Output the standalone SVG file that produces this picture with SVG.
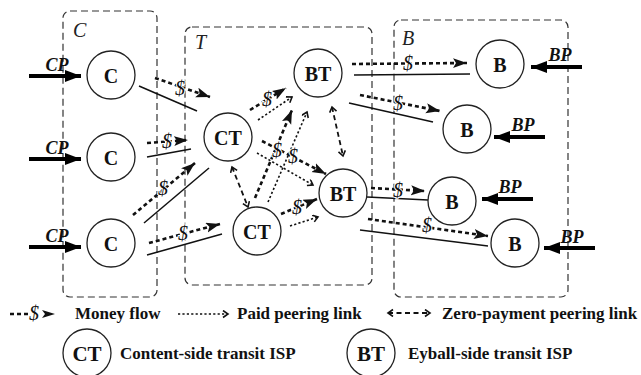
<svg xmlns="http://www.w3.org/2000/svg" width="641" height="375" viewBox="0 0 641 375">
  <style>
    .box { fill: none; stroke: #333; stroke-width: 1.2; stroke-dasharray: 7 4; }
    .node circle { fill: #fff; stroke: #222; stroke-width: 1.3; }
    .node text, .leg { font-family: "Liberation Serif", "Times New Roman", serif; font-weight: bold; fill: #111; }
    .node text { font-size: 20px; text-anchor: middle; dominant-baseline: central; }
    .leg { font-size: 17px; }
    .grp { font-family: "Liberation Serif", serif; font-style: italic; font-size: 20px; fill: #222; }
    .ext { font-family: "Liberation Serif", serif; font-style: italic; font-weight: bold; font-size: 18px; fill: #111; text-anchor: middle; }
    .money { fill: none; stroke: #111; stroke-width: 2.6; stroke-dasharray: 4 3; marker-end: url(#mhead); }
    .paid { fill: none; stroke: #111; stroke-width: 1.6; stroke-dasharray: 2.2 2.2; marker-end: url(#open); }
    .zero { fill: none; stroke: #111; stroke-width: 1.8; stroke-dasharray: 5 3.5; marker-start: url(#open); marker-end: url(#open); }
    .link { stroke: #111; stroke-width: 1.5; }
    .dollar { font-family: "Liberation Serif", serif; font-style: italic; font-size: 20px; fill: #111; text-anchor: middle; dominant-baseline: central; paint-order: stroke; stroke: #fff; stroke-width: 2; }
    .thick { stroke: #000; stroke-width: 4; marker-end: url(#big); }
  </style>
  <defs>
    <marker id="mhead" markerUnits="userSpaceOnUse" markerWidth="16" markerHeight="12" refX="14" refY="5" orient="auto">
      <path d="M0,0 L14,5 L0,10 L3,5 Z" fill="#111"/>
    </marker>
    <marker id="open" markerUnits="userSpaceOnUse" markerWidth="10" markerHeight="10" refX="6" refY="4" orient="auto-start-reverse">
      <path d="M1,0.5 L6,4 L1,7.5" fill="none" stroke="#111" stroke-width="1.6"/>
    </marker>
    <marker id="big" markerUnits="userSpaceOnUse" markerWidth="18" markerHeight="14" refX="16" refY="6" orient="auto">
      <path d="M0,0 L16,6 L0,12 Z" fill="#000"/>
    </marker>
  </defs>

  <!-- group boxes -->
  <g id="groups">
    <rect class="box" x="63" y="11" width="94" height="286" rx="7"/>
    <rect class="box" x="185" y="27" width="187" height="258" rx="7"/>
    <rect class="box" x="394" y="20" width="174" height="277" rx="7"/>
    <text class="grp" x="73" y="37">C</text>
    <text class="grp" x="195" y="49">T</text>
    <text class="grp" x="402" y="45">B</text>
  </g>

  <!-- connectors -->
  <g id="connectors">
    <!-- plain links -->
    <line class="link" x1="139" y1="86" x2="197" y2="111"/>
    <line class="link" x1="147" y1="157" x2="191" y2="149"/>
    <line class="link" x1="144" y1="223" x2="209" y2="168"/>
    <line class="link" x1="147" y1="255" x2="222" y2="234"/>
    <line class="link" x1="354" y1="75" x2="470" y2="74"/>
    <line class="link" x1="349" y1="103" x2="433" y2="122"/>
    <line class="link" x1="367" y1="197" x2="428" y2="200"/>
    <line class="link" x1="360" y1="230" x2="488" y2="246"/>

    <!-- paid peering links -->
    <line class="paid" x1="258" y1="120" x2="292" y2="97"/>
    <line class="paid" x1="257" y1="153" x2="313" y2="185"/>
    <line class="paid" x1="268" y1="202" x2="307" y2="112"/>
    <line class="paid" x1="290" y1="226" x2="318" y2="217"/>

    <!-- zero-payment peering links -->
    <line class="zero" x1="232" y1="167" x2="248" y2="207"/>
    <line class="zero" x1="332" y1="107" x2="343" y2="156"/>

    <!-- money flows -->
    <line class="money" x1="155" y1="78" x2="210" y2="97"/>
    <line class="money" x1="147" y1="143" x2="188" y2="140"/>
    <line class="money" x1="133" y1="215" x2="195" y2="163"/>
    <line class="money" x1="149" y1="243" x2="220" y2="224"/>
    <line class="money" x1="250" y1="110" x2="286" y2="88"/>
    <line class="money" x1="262" y1="141" x2="326" y2="174"/>
    <line class="money" x1="255" y1="198" x2="292" y2="110"/>
    <line class="money" x1="281" y1="214" x2="317" y2="199"/>
    <line class="money" x1="352" y1="64" x2="467" y2="63"/>
    <line class="money" x1="360" y1="95" x2="440" y2="111"/>
    <line class="money" x1="371" y1="188" x2="425" y2="191"/>
    <line class="money" x1="368" y1="219" x2="488" y2="236"/>

    <text class="dollar" x="180" y="88">$</text>
    <text class="dollar" x="167" y="141">$</text>
    <text class="dollar" x="163" y="188">$</text>
    <text class="dollar" x="183" y="233">$</text>
    <text class="dollar" x="267" y="99">$</text>
    <text class="dollar" x="293" y="156">$</text>
    <text class="dollar" x="277" y="150">$</text>
    <text class="dollar" x="297" y="207">$</text>
    <text class="dollar" x="408" y="63">$</text>
    <text class="dollar" x="398" y="103">$</text>
    <text class="dollar" x="398" y="190">$</text>
    <text class="dollar" x="427" y="225">$</text>

    <!-- external traffic arrows -->
    <line class="thick" x1="29" y1="76" x2="81" y2="76"/>
    <line class="thick" x1="29" y1="159" x2="81" y2="159"/>
    <line class="thick" x1="29" y1="247" x2="81" y2="247"/>
    <line class="thick" x1="582" y1="67" x2="531" y2="67"/>
    <line class="thick" x1="545" y1="137" x2="494" y2="137"/>
    <line class="thick" x1="533" y1="199" x2="482" y2="199"/>
    <line class="thick" x1="595" y1="248" x2="544" y2="248"/>
    <text class="ext" x="57" y="71">CP</text>
    <text class="ext" x="57" y="154">CP</text>
    <text class="ext" x="57" y="242">CP</text>
    <text class="ext" x="560" y="61">BP</text>
    <text class="ext" x="523" y="131">BP</text>
    <text class="ext" x="510" y="193">BP</text>
    <text class="ext" x="572" y="243">BP</text>
  </g>

  <!-- nodes -->
  <g id="c1" class="node"><circle cx="111" cy="75" r="24"/><text x="111" y="76">C</text></g>
  <g id="c2" class="node"><circle cx="111" cy="157" r="24"/><text x="111" y="158">C</text></g>
  <g id="c3" class="node"><circle cx="111" cy="243" r="24"/><text x="111" y="244">C</text></g>
  <g id="ct1" class="node"><circle cx="228" cy="137" r="24"/><text x="228" y="138">CT</text></g>
  <g id="ct2" class="node"><circle cx="257" cy="231" r="24"/><text x="257" y="232">CT</text></g>
  <g id="bt1" class="node"><circle cx="318" cy="73" r="24"/><text x="318" y="74">BT</text></g>
  <g id="bt2" class="node"><circle cx="343" cy="193" r="24"/><text x="343" y="194">BT</text></g>
  <g id="b1" class="node"><circle cx="500" cy="64" r="24"/><text x="500" y="65">B</text></g>
  <g id="b2" class="node"><circle cx="467" cy="129" r="24"/><text x="467" y="130">B</text></g>
  <g id="b3" class="node"><circle cx="452" cy="201" r="24"/><text x="452" y="202">B</text></g>
  <g id="b4" class="node"><circle cx="515" cy="243" r="24"/><text x="515" y="244">B</text></g>

  <!-- legend -->
  <g id="legend">
    <line x1="10" y1="314" x2="28" y2="314" stroke="#111" stroke-width="2.6" stroke-dasharray="4 3"/>
    <text class="dollar" x="34" y="313">$</text>
    <path d="M42,310 L55,314 L42,318 L45,314 Z" fill="#111"/>
    <text class="leg" x="75" y="319">Money flow</text>
    <line class="paid" x1="178" y1="314" x2="228" y2="314"/>
    <text class="leg" x="237" y="319">Paid peering link</text>
    <line class="zero" x1="388" y1="313" x2="430" y2="313"/>
    <text class="leg" x="442" y="319">Zero-payment peering link</text>
    <g class="node"><circle cx="87" cy="353" r="24"/><text x="87" y="354" style="font-size:21px">CT</text></g>
    <text class="leg" x="120" y="359">Content-side transit ISP</text>
    <g class="node"><circle cx="371" cy="353" r="24"/><text x="371" y="354" style="font-size:21px">BT</text></g>
    <text class="leg" x="408" y="359">Eyball-side transit ISP</text>
  </g>
</svg>
